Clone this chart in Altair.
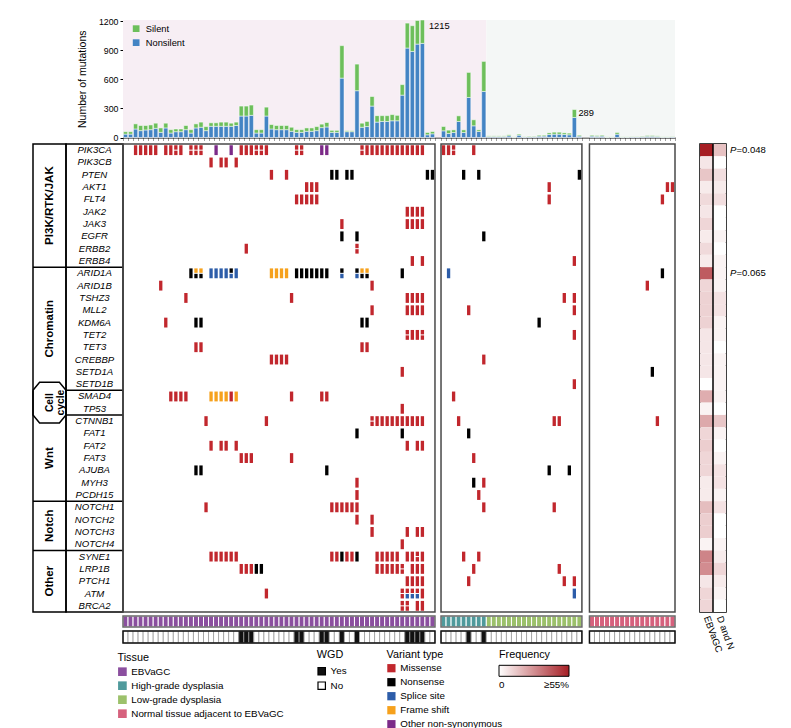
import altair as alt
import pandas as pd

FONT = "Liberation Sans"

# ---------------- data ----------------
GENES = ["PIK3CA", "PIK3CB", "PTEN", "AKT1", "FLT4", "JAK2", "JAK3", "EGFR", "ERBB2", "ERBB4",
         "ARID1A", "ARID1B", "TSHZ3", "MLL2", "KDM6A", "TET2", "TET3", "CREBBP", "SETD1A", "SETD1B",
         "SMAD4", "TP53",
         "CTNNB1", "FAT1", "FAT2", "FAT3", "AJUBA", "MYH3", "PCDH15",
         "NOTCH1", "NOTCH2", "NOTCH3", "NOTCH4",
         "SYNE1", "LRP1B", "PTCH1", "ATM", "BRCA2"]
GROUP_NAMES = ["PI3K/RTK/JAK", "Chromatin", "Cell\ncycle", "Wnt", "Notch", "Other"]
GROUP_SIZES = [10, 10, 2, 7, 4, 5]
BADGE_GROUP = "Cell\ncycle"

TISSUES = ["EBVaGC", "High-grade dysplasia", "Low-grade dysplasia", "Normal tissue adjacent to EBVaGC"]
TISSUE_COLORS = ["#8b4f9f", "#4f9a9c", "#9cc16b", "#d6617d"]

VARIANTS = ["Missense", "Nonsense", "Splice site", "Frame shift", "Other non-synonymous"]
VARIANT_COLORS = ["#c1272d", "#000000", "#2d5da9", "#f6a11c", "#7c2a88"]
CODE = {"M": "Missense", "N": "Nonsense", "S": "Splice site", "F": "Frame shift", "O": "Other non-synonymous"}

Y_TICKS = [0, 300, 600, 900, 1200]

# panel 1: EBVaGC (62 samples)
TISSUE_E = [("EBVaGC", 62)]
NONSILENT_E = [35, 35, 88, 71, 78, 81, 95, 53, 99, 46,
               60, 60, 81, 46, 99, 106, 71, 116, 116, 116,
               116, 116, 124, 222, 222, 229, 46, 46, 222, 88,
               81, 81, 81, 64, 53, 53, 64, 64, 71, 102,
               109, 53, 53, 614, 60, 60, 484, 106, 113, 325,
               159, 166, 166, 173, 173, 438, 925, 890, 966, 973,
               28, 38]
SILENT_E = [25, 25, 53, 53, 46, 49, 53, 46, 49, 35,
            28, 28, 43, 35, 42, 53, 42, 36, 36, 43,
            43, 32, 35, 103, 103, 106, 35, 35, 92, 46,
            43, 43, 43, 42, 28, 28, 35, 35, 42, 36,
            46, 21, 21, 336, 10, 10, 275, 42, 53, 99,
            67, 60, 60, 64, 56, 109, 258, 266, 244, 242,
            24, 24]
WGD_YES_E = [23, 24, 25, 34, 35, 39, 40, 43, 46, 56, 57, 58, 59]
MUT_E = [
    ("PIK3CA", "M", [2, 3, 4, 5, 6, 8, 9, 11, 23, 24, 25, 28, 48, 49, 50, 51, 52, 53, 54, 55, 56, 57, 58, 59]),
    ("PIK3CA", "MM", [10, 13, 14, 15, 26, 27, 34, 35, 47]),
    ("PIK3CA", "O", [18, 21, 39, 40]),
    ("PIK3CB", "M", [17, 19, 20, 22]),
    ("PTEN", "M", [29, 32]),
    ("PTEN", "N", [41, 42, 44, 45, 60, 61]),
    ("AKT1", "M", [36, 37, 38]),
    ("FLT4", "M", [34, 35, 36, 37, 38]),
    ("JAK2", "M", [56, 57, 58, 59]),
    ("JAK3", "M", [43, 56, 57, 58, 59]),
    ("EGFR", "N", [43, 46]),
    ("ERBB2", "M", [24]),
    ("ERBB2", "MM", [46]),
    ("ERBB4", "M", [57, 59]),
    ("ARID1A", "N", [13, 34, 35, 36, 37, 38, 39, 40, 55]),
    ("ARID1A", "FN", [14, 15, 47, 48]),
    ("ARID1A", "S", [17, 18, 19, 20, 22]),
    ("ARID1A", "NS", [21, 43, 46]),
    ("ARID1A", "F", [29, 30, 31, 32]),
    ("ARID1B", "M", [7, 49]),
    ("TSHZ3", "M", [12, 33, 56, 57, 58, 59]),
    ("MLL2", "M", [49, 56, 57, 58, 59]),
    ("KDM6A", "M", [8]),
    ("KDM6A", "N", [14, 15, 47, 48]),
    ("TET2", "M", [57, 58]),
    ("TET2", "MM", [56, 59]),
    ("TET3", "M", [14, 15, 47, 48]),
    ("CREBBP", "M", [29, 30, 31, 32]),
    ("SETD1A", "M", [55]),
    ("SMAD4", "M", [9, 10, 11, 12, 21, 33, 39, 40]),
    ("SMAD4", "F", [17, 18, 19, 20, 22]),
    ("TP53", "M", [55]),
    ("CTNNB1", "M", [16, 28, 50, 51, 52, 53, 54, 55, 56, 57, 58, 59]),
    ("CTNNB1", "MM", [49]),
    ("FAT1", "N", [46, 55]),
    ("FAT2", "M", [17, 19, 20, 22, 56, 58, 59]),
    ("FAT3", "M", [23, 24, 25, 33]),
    ("AJUBA", "N", [14, 15, 40]),
    ("MYH3", "M", [46]),
    ("PCDH15", "M", [46]),
    ("NOTCH1", "M", [16, 41, 42, 43, 44, 45, 46]),
    ("NOTCH2", "M", [46, 49]),
    ("NOTCH3", "M", [49, 56, 58, 59]),
    ("NOTCH4", "M", [55]),
    ("SYNE1", "M", [17, 18, 19, 20, 21, 22, 41, 42, 44, 45, 50, 51, 52, 53, 54, 56, 57, 59]),
    ("SYNE1", "N", [43, 46]),
    ("SYNE1", "MM", [58]),
    ("LRP1B", "M", [23, 24, 25, 50, 51, 52, 53, 54, 57, 58, 59]),
    ("LRP1B", "N", [26, 27]),
    ("LRP1B", "MM", [55]),
    ("PTCH1", "M", [56, 57, 58, 59]),
    ("ATM", "M", [28, 59]),
    ("ATM", "MM", [55]),
    ("ATM", "MS", [56, 57, 58]),
    ("BRCA2", "M", [58, 59]),
    ("BRCA2", "MM", [55, 56]),
]

# panel 2: dysplasia (9 high-grade + 19 low-grade)
TISSUE_D = [("High-grade dysplasia", 9), ("Low-grade dysplasia", 19)]
NONSILENT_D = [69, 41, 52, 166, 52, 414, 121, 62, 476, 10,
               10, 10, 10, 17, 4, 24, 6, 8, 8, 14,
               14, 31, 34, 34, 31, 28, 207, 14]
SILENT_D = [45, 35, 27, 58, 27, 259, 62, 17, 311, 7,
            7, 7, 7, 11, 3, 11, 4, 6, 6, 10,
            10, 17, 21, 21, 17, 17, 82, 10]
WGD_YES_D = [5, 8]
MUT_D = [
    ("PIK3CA", "M", [0, 1, 6]),
    ("PIK3CA", "MM", [2]),
    ("PTEN", "N", [4, 7, 27]),
    ("AKT1", "M", [21]),
    ("FLT4", "M", [21]),
    ("EGFR", "N", [8]),
    ("ERBB4", "M", [26]),
    ("ARID1A", "S", [1]),
    ("TSHZ3", "M", [24, 26]),
    ("MLL2", "M", [5, 26]),
    ("KDM6A", "N", [19]),
    ("TET2", "M", [26]),
    ("CREBBP", "M", [8]),
    ("SETD1B", "M", [26]),
    ("SMAD4", "M", [2]),
    ("CTNNB1", "M", [3, 22, 23]),
    ("FAT1", "N", [5]),
    ("FAT3", "M", [6]),
    ("AJUBA", "N", [21, 25]),
    ("MYH3", "N", [6]),
    ("MYH3", "M", [8]),
    ("PCDH15", "M", [7]),
    ("NOTCH1", "M", [8, 22]),
    ("SYNE1", "M", [4, 7]),
    ("LRP1B", "M", [6, 23]),
    ("PTCH1", "M", [5, 24, 26]),
    ("ATM", "S", [26]),
]

# panel 3: normal tissue adjacent to EBVaGC (17 samples)
TISSUE_N = [("Normal tissue adjacent to EBVaGC", 17)]
NONSILENT_N = [14, 12, 14, 4, 4, 34, 4, 4, 6, 6, 8, 12, 12, 10, 4, 4, 6]
SILENT_N = [10, 9, 10, 3, 3, 18, 3, 3, 4, 4, 6, 9, 9, 7, 3, 3, 4]
WGD_YES_N = []
MUT_N = [
    ("AKT1", "M", [15, 16]),
    ("FLT4", "M", [14]),
    ("ARID1A", "N", [14]),
    ("ARID1B", "M", [11]),
    ("SETD1A", "N", [12]),
    ("CTNNB1", "M", [13]),
]

# mutation frequency (%) per gene
FREQ_COLS = ["EBVaGC", "D and N"]
FREQ_EBVAGC = [60, 6, 14, 5, 9, 6, 10, 5, 9, 5, 40, 10, 11, 11, 11, 6, 6, 6, 6, 0,
               20, 3, 21, 10, 12, 10, 10, 5, 5, 16, 12, 12, 3, 30, 28, 6, 10, 10]
FREQ_DN = [15, 0, 8, 5, 8, 0, 0, 3, 0, 3, 3, 3, 7, 7, 3, 3, 0, 3, 3, 3,
           3, 0, 14, 3, 0, 3, 7, 7, 3, 7, 0, 0, 3, 5, 10, 5, 3, 0]
P_VALUES = [("PIK3CA", "=0.048"), ("ARID1A", "=0.065")]

# ---------------- layout helpers ----------------
PANEL_GAPS = [0.0, 1.2, 1.5]          # gaps between panels (in sample-column units)
PANELS = [
    (TISSUE_E, NONSILENT_E, SILENT_E, WGD_YES_E, MUT_E),
    (TISSUE_D, NONSILENT_D, SILENT_D, WGD_YES_D, MUT_D),
    (TISSUE_N, NONSILENT_N, SILENT_N, WGD_YES_N, MUT_N),
]
W_MAIN, H_BAR, H_ONCO, H_STRIP = 552, 117.5, 468, 11
NG = len(GENES)

bar_rows, onco_rows, frame_rows, tis_rows, wgd_rows, bounds_x = [], [], [], [], [], []
pos = 0.0
starts = []
for (tissue, ns, si, wgd_yes, muts), gap in zip(PANELS, PANEL_GAPS):
    start = pos + gap
    starts.append(start)
    n = len(ns)
    tissue_list = [t for t, k in tissue for _ in range(k)]
    for i in range(n):
        left = start + i
        bar_rows.append({"x0": left + 0.08, "x1": left + 0.92, "y0": 0, "y1": ns[i], "type": "Nonsilent"})
        bar_rows.append({"x0": left + 0.08, "x1": left + 0.92, "y0": ns[i], "y1": ns[i] + si[i], "type": "Silent"})
        tis_rows.append({"x0": left, "x1": left + 1, "tissue": tissue_list[i]})
        wgd_rows.append({"x0": left, "x1": left + 1, "wgd": "Yes" if i in wgd_yes else "No"})
    bounds_x.extend([start + i for i in range(n + 1)])
    frame_rows.append({"x0": start, "x1": start + n})
    for gene, code, cols in muts:
        r = GENES.index(gene)
        for c in cols:
            left = start + c
            if len(code) == 1:
                parts = [(code, r - 0.4, r + 0.4)]
            else:
                parts = [(code[0], r - 0.4, r - 0.04), (code[1], r + 0.04, r + 0.4)]
            for k, y0, y1 in parts:
                onco_rows.append({"x0": left + 0.17, "x1": left + 0.83, "y0": y0, "y1": y1, "variant": CODE[k]})
    pos = start + n
TOTAL = pos

tot_e = [a + b for a, b in zip(NONSILENT_E, SILENT_E)]
ie = tot_e.index(max(tot_e))
tot_d = [a + b for a, b in zip(NONSILENT_D, SILENT_D)]
low = range(TISSUE_D[0][1], len(tot_d))
idl = max(low, key=lambda i: tot_d[i])
YMAX = max(tot_e)

pink_end = starts[1] + TISSUE_D[0][1]
bg_rows = [{"x0": 0, "x1": pink_end, "y0": 0, "y1": YMAX, "region": "a"},
           {"x0": pink_end, "x1": TOTAL, "y0": 0, "y1": YMAX, "region": "b"}]

bars_df = pd.DataFrame(bar_rows)
bg_df = pd.DataFrame(bg_rows)
onco_df = pd.DataFrame(onco_rows)
frames_df = pd.DataFrame(frame_rows)
frames_df["y0"] = -0.5
frames_df["y1"] = NG - 0.5
tis_df = pd.DataFrame(tis_rows)
wgd_df = pd.DataFrame(wgd_rows)

xscale = alt.Scale(domain=[0, TOTAL], nice=False, zero=False)
row_scale = alt.Scale(domain=[-0.5, NG - 0.5], reverse=True, nice=False, zero=False)


def spacer(w, h):
    return alt.Chart(pd.DataFrame({"v": [0]})).mark_point(opacity=0).encode(
        x=alt.X("v:Q", axis=None), y=alt.Y("v:Q", axis=None)).properties(width=w, height=h)


# ---------------- bar chart ----------------
ybar = alt.Scale(domain=[0, YMAX], nice=False, zero=True)
X_AXIS = alt.Axis(values=bounds_x, labels=False, ticks=True, tickSize=3, tickColor="#a0a0a0",
                  domainColor="black", grid=False, title=None)
Y_AXIS = alt.Axis(values=Y_TICKS, format="d", labelOverlap=False, tickCount=5,
                  title="Number of mutations", titleFontSize=10.5, titleFontWeight="normal",
                  titleColor="black", titlePadding=11, labelFontSize=8.8, labelColor="black",
                  labelPadding=2, tickSize=3, tickColor="black", domainColor="black", grid=False)


def bx(f):
    return alt.X(f, scale=xscale, axis=X_AXIS)


def by(f):
    return alt.Y(f, scale=ybar, axis=Y_AXIS)


bg = alt.Chart(bg_df).mark_rect().encode(
    x=bx("x0:Q"), x2="x1:Q", y=by("y0:Q"), y2="y1:Q",
    fill=alt.Fill("region:N", scale=alt.Scale(domain=["a", "b"], range=["#f7eef4", "#f4f7f6"]), legend=None),
)
bars = alt.Chart(bars_df).mark_rect(stroke="white", strokeWidth=0.5).encode(
    x=bx("x0:Q"), x2="x1:Q", y=by("y0:Q"), y2="y1:Q",
    color=alt.Color("type:N", scale=alt.Scale(domain=["Silent", "Nonsilent"], range=["#6dbf5b", "#4384c4"]),
                    legend=alt.Legend(title=None, orient="none", legendX=8.5, legendY=4, symbolType="square",
                                      symbolSize=45, symbolStrokeWidth=0, labelFontSize=9.3, labelColor="black",
                                      rowPadding=4, labelOffset=5, padding=0)),
)
ann_e = pd.DataFrame([{"x0": starts[0] + ie + 1, "y0": tot_e[ie], "t": str(tot_e[ie])}])
ann_d = pd.DataFrame([{"x0": starts[1] + idl + 1, "y0": tot_d[idl], "t": str(tot_d[idl])}])
t1 = alt.Chart(ann_e).mark_text(align="left", baseline="middle", dx=4, dy=6, fontSize=9.3).encode(
    x=bx("x0:Q"), y=by("y0:Q"), text="t:N")
t2 = alt.Chart(ann_d).mark_text(align="left", baseline="middle", dx=1.5, dy=3.5, fontSize=9.3).encode(
    x=bx("x0:Q"), y=by("y0:Q"), text="t:N")
bar_chart = alt.layer(bg, bars, t1, t2).properties(width=W_MAIN, height=H_BAR)

# ---------------- oncoprint ----------------
frames = alt.Chart(frames_df).mark_rect(filled=False, stroke="#4a4a4a", strokeWidth=1.5).encode(
    x=alt.X("x0:Q", scale=xscale, axis=None), x2="x1:Q",
    y=alt.Y("y0:Q", scale=row_scale, axis=None), y2="y1:Q")
muts = alt.Chart(onco_df).mark_rect().encode(
    x=alt.X("x0:Q", scale=xscale, axis=None), x2="x1:Q",
    y=alt.Y("y0:Q", scale=row_scale, axis=None), y2="y1:Q",
    color=alt.Color("variant:N", scale=alt.Scale(domain=VARIANTS, range=VARIANT_COLORS),
                    legend=alt.Legend(title="Variant type", orient="none", legendX=263.5, legendY=504.5,
                                      symbolType="square", symbolSize=68, symbolStrokeWidth=0,
                                      labelFontSize=9.8, titleFontSize=10.8, titleFontWeight="normal",
                                      titleColor="black", labelColor="black", rowPadding=3, labelOffset=4,
                                      titlePadding=4, padding=0)))
onco = alt.layer(muts, frames).properties(width=W_MAIN, height=H_ONCO)

# ---------------- gene / group label box ----------------
cum = [sum(GROUP_SIZES[:i]) for i in range(len(GROUP_SIZES) + 1)]
bound_vals = [c - 0.5 for c in cum[1:-1]]
bi = GROUP_NAMES.index(BADGE_GROUP)
badge_top, badge_bot = cum[bi] - 0.5, cum[bi + 1] - 0.5
bounds_df = pd.DataFrame({"y": bound_vals})
grp_bounds_df = pd.DataFrame({"y": [v for v in bound_vals if v not in (badge_top, badge_bot)]})
# hexagonal badge outline around the "Cell cycle" label
badge_df = pd.DataFrame({
    "x": [0, 0.2, 0.8, 1, 1, 0.8, 0.2, 0, 0],
    "y": [badge_top, badge_top - 0.65, badge_top - 0.65, badge_top, badge_bot,
          badge_bot + 0.65, badge_bot + 0.65, badge_bot, badge_top],
    "o": list(range(9))})
grp_df = pd.DataFrame({"name": GROUP_NAMES, "c": [(cum[i] + cum[i + 1] - 1) / 2 for i in range(len(GROUP_NAMES))]})
gene_df = pd.DataFrame({"gene": GENES, "row": list(range(NG))})
box_view = alt.ViewBackground(stroke="black", strokeWidth=1.5)

rules = alt.Chart(bounds_df).mark_rule(color="black", strokeWidth=1.5).encode(
    y=alt.Y("y:Q", scale=row_scale, axis=None))
gene_txt = alt.Chart(gene_df).mark_text(fontStyle="italic", fontSize=9.6, color="black").encode(
    y=alt.Y("row:Q", scale=row_scale, axis=None), text="gene:N")
genes_chart = alt.layer(rules, gene_txt).properties(width=57, height=H_ONCO, view=box_view)

grp_rules = alt.Chart(grp_bounds_df).mark_rule(color="black", strokeWidth=1.5).encode(
    y=alt.Y("y:Q", scale=row_scale, axis=None))
badge = alt.Chart(badge_df).mark_line(color="black", strokeWidth=1.5).encode(
    x=alt.X("x:Q", scale=alt.Scale(domain=[0, 1], nice=False), axis=None),
    y=alt.Y("y:Q", scale=row_scale, axis=None), order="o:Q")
grp_txt = alt.Chart(grp_df[grp_df["name"] != BADGE_GROUP]).mark_text(
    angle=270, fontWeight="bold", fontSize=11.5, color="black").encode(
    y=alt.Y("c:Q", scale=row_scale, axis=None), text="name:N")
badge_txt = alt.Chart(grp_df[grp_df["name"] == BADGE_GROUP]).mark_text(
    angle=270, fontWeight="bold", fontSize=10.3, lineBreak="\n", lineHeight=11, color="black").encode(
    y=alt.Y("c:Q", scale=row_scale, axis=None), text="name:N")
groups_chart = alt.layer(grp_rules, badge, grp_txt, badge_txt).properties(width=33, height=H_ONCO, view=box_view)

# ---------------- frequency heatmap ----------------
heat_df = pd.DataFrame({"gene": GENES * 2,
                        "col": [FREQ_COLS[0]] * NG + [FREQ_COLS[1]] * NG,
                        "freq": FREQ_EBVAGC + FREQ_DN})
hx = alt.Scale(domain=FREQ_COLS, paddingInner=0, paddingOuter=0)
hy = alt.Scale(domain=GENES, paddingInner=0, paddingOuter=0)
heat = alt.Chart(heat_df).mark_rect().encode(
    x=alt.X("col:N", scale=hx, sort=FREQ_COLS,
            axis=alt.Axis(title=None, labelAngle=70, labelAlign="left", labelBaseline="middle", ticks=False,
                          domain=False, labelFontSize=9.5, labelColor="black", labelPadding=4)),
    y=alt.Y("gene:N", scale=hy, sort=GENES, axis=None),
    color=alt.Color("freq:Q", scale=alt.Scale(domain=[0, 55], range=["#ffffff", "#a61e24"], clamp=True,
                                              interpolate="rgb"),
                    legend=alt.Legend(title="Frequency", orient="none", direction="horizontal",
                                      legendX=-201, legendY=504.5, gradientLength=70, gradientThickness=11,
                                      gradientStrokeColor="black", gradientStrokeWidth=1, values=[0, 55],
                                      labelExpr="datum.value == 0 ? '0' : '≥55%'", labelFontSize=9.8,
                                      labelColor="black", titleFontSize=10.8, titleFontWeight="normal",
                                      titleColor="black", titlePadding=6, labelOffset=4, padding=0)))
div = alt.Chart(pd.DataFrame({"col": [FREQ_COLS[1]]})).mark_rule(color="black", strokeWidth=1.5).encode(
    x=alt.X("col:N", scale=hx, bandPosition=0))
p_df = pd.DataFrame({"gene": [g for g, _ in P_VALUES], "p": [p for _, p in P_VALUES], "col": FREQ_COLS[1]})
p_letter = alt.Chart(p_df).mark_text(text="P", fontStyle="italic", fontSize=9.5, align="left", dx=4,
                                     color="black").encode(
    x=alt.X("col:N", scale=hx, bandPosition=1), y=alt.Y("gene:N", scale=hy, sort=GENES))
p_val = alt.Chart(p_df).mark_text(fontSize=9.5, align="left", dx=10.5, color="black").encode(
    x=alt.X("col:N", scale=hx, bandPosition=1), y=alt.Y("gene:N", scale=hy, sort=GENES), text="p:N")
heat_chart = alt.layer(heat, div, p_letter, p_val).properties(width=26, height=H_ONCO, view=box_view)

# ---------------- tissue and WGD strips ----------------
tis_cells = alt.Chart(tis_df).mark_rect(stroke="white", strokeWidth=1).encode(
    x=alt.X("x0:Q", scale=xscale, axis=None), x2="x1:Q",
    color=alt.Color("tissue:N", scale=alt.Scale(domain=TISSUES, range=TISSUE_COLORS),
                    legend=alt.Legend(title="Tissue", orient="none", legendX=-5.5, legendY=36,
                                      symbolType="square", symbolSize=75, symbolStrokeWidth=0,
                                      labelFontSize=9.8, titleFontSize=10.8, titleFontWeight="normal",
                                      titleColor="black", labelColor="black", rowPadding=3, labelOffset=4,
                                      titlePadding=4, padding=0)))
tis_frame = alt.Chart(frames_df).mark_rect(filled=False, stroke="#6a6a6a", strokeWidth=1.5).encode(
    x=alt.X("x0:Q", scale=xscale, axis=None), x2="x1:Q")
tissue_chart = alt.layer(tis_cells, tis_frame).properties(width=W_MAIN, height=H_STRIP)

wgd_cells = alt.Chart(wgd_df).mark_rect(stroke="#9a9a9a", strokeWidth=0.8).encode(
    x=alt.X("x0:Q", scale=xscale, axis=None), x2="x1:Q",
    color=alt.Color("wgd:N", scale=alt.Scale(domain=["Yes", "No"], range=["#111111", "#ffffff"]),
                    legend=alt.Legend(title="WGD", orient="none", legendX=193.8, legendY=17.5,
                                      symbolType="square", symbolSize=55, symbolStrokeColor="black",
                                      symbolStrokeWidth=1.2, labelFontSize=9.8, titleFontSize=10.8,
                                      titleFontWeight="normal", titleColor="black", labelColor="black",
                                      rowPadding=0.5, labelOffset=4, titlePadding=7, padding=0)))
wgd_frame = alt.Chart(frames_df).mark_rect(filled=False, stroke="#111111", strokeWidth=1.5).encode(
    x=alt.X("x0:Q", scale=xscale, axis=None), x2="x1:Q")
wgd_chart = alt.layer(wgd_cells, wgd_frame).properties(width=W_MAIN, height=12)

# ---------------- assemble ----------------
cells = [
    spacer(33, 119.8), spacer(57, 1), bar_chart, spacer(25, 1), spacer(26, 1),
    groups_chart, genes_chart, onco, spacer(25, 1), heat_chart,
    spacer(1, 1), spacer(1, 1), tissue_chart, spacer(1, 1), spacer(1, 1),
    spacer(1, 1), spacer(1, 1), wgd_chart, spacer(1, 1), spacer(1, 1),
]
chart = alt.concat(*cells, columns=5, spacing={"row": 4, "column": 0}, bounds="flush").properties(
    padding={"left": 21, "top": 9, "right": 5, "bottom": 0}
).configure(font=FONT).configure_view(stroke=None)

chart.save("out.html", embed_options={"renderer": "svg", "actions": False})
